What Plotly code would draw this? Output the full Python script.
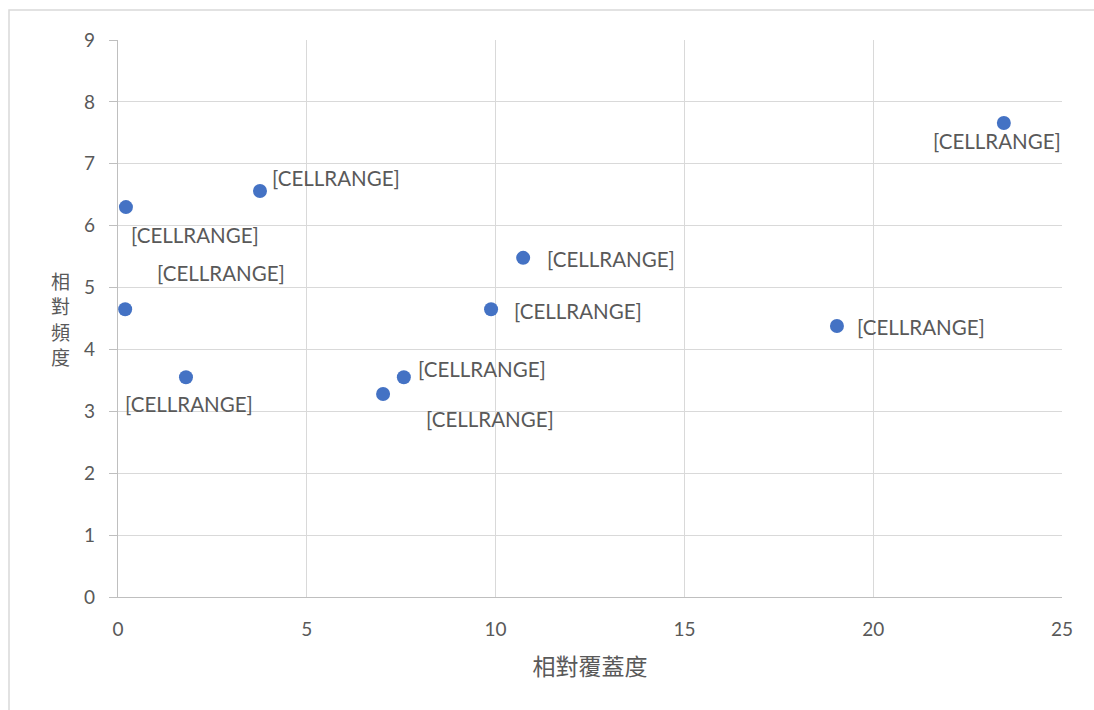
import plotly.graph_objects as go

# Data
x_vals = [0.21, 0.19, 1.80, 3.76, 7.02, 7.57, 9.88, 10.73, 19.04, 23.46]
y_vals = [6.30, 4.65, 3.55, 6.56, 3.28, 3.55, 4.65, 5.48, 4.38, 7.66]
labels = ["[CELLRANGE]"] * 10
# label offsets in pixels (dx, dy) relative to each point
label_dx = [69, 96, 3, 76, 107, 78, 87, 88, 84, -7]
label_dy = [28, -36, 27, -13, 25, -8, 2, 1, 1, 18]

x_ticks = [0, 5, 10, 15, 20, 25]
y_ticks = [0, 1, 2, 3, 4, 5, 6, 7, 8, 9]
x_title = "相對覆蓋度"
y_title = "相對頻度"

TEXT = "#595959"
GRID = "#d9d9d9"
AXIS = "#bfbfbf"
LABEL_FONT = "Lato, 'Liberation Sans', sans-serif"
CJK_FONT = "'Noto Sans CJK TC', sans-serif"

W, H = 1094, 710
ML, MR, MT, MB = 118, 32, 40, 113
plot_w = W - ML - MR
plot_h = H - MT - MB


def px_x(p):
    return (p - ML) / plot_w


def px_y(p):
    return (H - MB - p) / plot_h


fig = go.Figure()
fig.add_trace(go.Scatter(
    x=x_vals, y=y_vals, mode="markers",
    marker=dict(color="#4472C4", size=14, line=dict(width=0)),
    hoverinfo="x+y", showlegend=False,
))

annotations = []
for xv, yv, t, dx, dy in zip(x_vals, y_vals, labels, label_dx, label_dy):
    annotations.append(dict(
        x=xv, y=yv, xref="x", yref="y", text=t,
        showarrow=True, arrowcolor="rgba(0,0,0,0)", arrowwidth=0.1,
        ax=dx, ay=dy, axref="pixel", ayref="pixel",
        font=dict(family=LABEL_FONT, size=20.5, color=TEXT),
        xanchor="center", yanchor="middle",
    ))

# y-axis title as stacked characters
for i, ch in enumerate(y_title):
    annotations.append(dict(
        x=px_x(60), y=px_y(280 + 25.5 * i), xref="paper", yref="paper", text=ch,
        showarrow=False, font=dict(family=CJK_FONT, size=19, color=TEXT),
        xanchor="center", yanchor="middle",
    ))

fig.update_layout(
    width=W, height=H,
    margin=dict(l=ML, r=MR, t=MT, b=MB),
    paper_bgcolor="white", plot_bgcolor="white",
    annotations=annotations,
    shapes=[dict(type="rect", xref="paper", yref="paper",
                 x0=px_x(9), x1=px_x(1100), y0=px_y(720), y1=px_y(10),
                 line=dict(color=GRID, width=1.5), layer="below")],
    xaxis=dict(
        range=[0, 25], tickvals=x_ticks, showgrid=True, gridcolor=GRID, gridwidth=1.3,
        showline=True, linecolor=AXIS, linewidth=1.3, zeroline=False,
        ticks="", ticklabelstandoff=15,
        tickfont=dict(family=LABEL_FONT, size=19, color=TEXT),
        title=dict(text=x_title, font=dict(family=CJK_FONT, size=23, color=TEXT), standoff=19),
    ),
    yaxis=dict(
        range=[0, 9], tickvals=y_ticks, showgrid=True, gridcolor=GRID, gridwidth=1.3,
        showline=True, linecolor=AXIS, linewidth=1.3, zeroline=False,
        ticks="outside", ticklen=8, tickcolor=AXIS, tickwidth=1.3,
        ticklabelstandoff=10,
        tickfont=dict(family=LABEL_FONT, size=19, color=TEXT),
    ),
)

fig.write_html(
    "out.html",
    config={"displayModeBar": False},
    post_script="document.body.style.margin='0';document.body.style.overflow='hidden';",
)
